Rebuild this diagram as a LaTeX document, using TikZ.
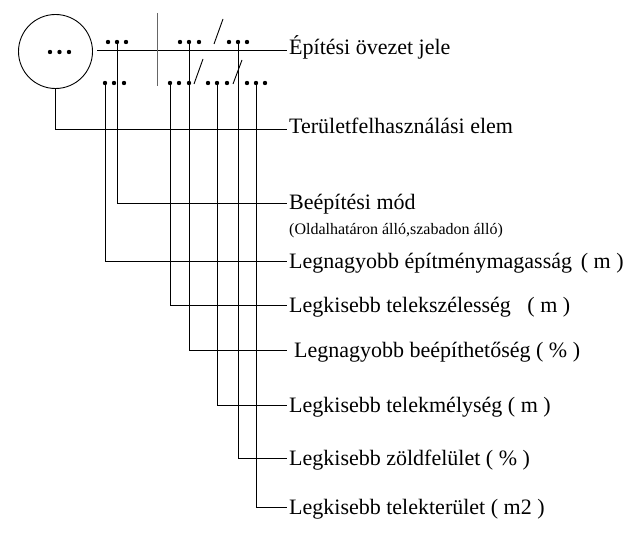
\documentclass[tikz,border=0pt]{standalone}
\usepackage{fontspec}
\setmainfont{Liberation Serif}
\begin{document}
\begin{tikzpicture}[x=1pt,y=-1pt,
  ln/.style={line width=0.9pt,black},
  dotp/.style={circle,fill=black,inner sep=0pt,minimum size=4.4pt},
  lbl/.style={anchor=base west,inner sep=0pt,font=\fontsize{22}{24}\selectfont},
  sublbl/.style={anchor=base west,inner sep=0pt,font=\fontsize{16}{18}\selectfont}]
\useasboundingbox (0,0) rectangle (636,540);
% circle
\node[draw,ln,circle,minimum size=74pt,inner sep=0pt] (circ) at (55.5,51.5) {};
\foreach \x [count=\i] in {50,59.5,69} \node[dotp] (c\i) at (\x,52) {};
% top horizontal line and separator
\coordinate (hl) at (97,50);
\coordinate (e0) at (287,50);
\draw[ln] (hl) -- (e0);
\coordinate (s1) at (157,13);
\coordinate (s2) at (157,86);
\draw[line width=0.9pt,black!60] (s1) -- (s2);
% top dots
\foreach \x [count=\i] in {108,117,126,180,189,199,229,238,247} \node[dotp] (t\i) at (\x,42) {};
% bottom dots
\foreach \x [count=\i] in {105,114,124,170,179,189,208,217,227,247,256,265} \node[dotp] (b\i) at (\x,83) {};
% slashes
\coordinate (sa1) at (214,44); \coordinate (sa2) at (223,19);
\coordinate (sb1) at (194,84); \coordinate (sb2) at (203,59);
\coordinate (sc1) at (233,84); \coordinate (sc2) at (242,60);
\draw[ln] (sa1) -- (sa2);
\draw[ln] (sb1) -- (sb2);
\draw[ln] (sc1) -- (sc2);
% line end coordinates
\coordinate (e1) at (287,129);
\coordinate (e2) at (287,203);
\coordinate (e3) at (287,261);
\coordinate (e4) at (287,305);
\coordinate (e5) at (287,350);
\coordinate (e6) at (287,405);
\coordinate (e7) at (287,458);
\coordinate (e8) at (287,507);
% labels
\node[lbl] (l0) at (289,55) {Építési övezet jele};
\node[lbl] (l1) at (289,134) {Területfelhasználási elem};
\node[lbl] (l2) at (289,209) {Beépítési mód};
\node[sublbl] (l2b) at (289,234) {(Oldalhatáron álló,szabadon álló)};
\node[lbl] (l3) at (289,268) {Legnagyobb építménymagasság\hspace{0.4em}( m )};
\node[lbl] (l4) at (289,312) {Legkisebb telekszélesség\hspace{0.75em}( m )};
\node[lbl] (l5) at (294,357) {Legnagyobb beépíthetőség ( \% )};
\node[lbl] (l6) at (289,412) {Legkisebb telekmélység ( m )};
\node[lbl] (l7) at (289,465) {Legkisebb zöldfelület ( \% )};
\node[lbl] (l8) at (289,514) {Legkisebb telekterület ( m2 )};
% connectors
\draw[ln] (circ.south) |- (e1);
\draw[ln] (t2.center) |- (e2);
\draw[ln] (b1.center) |- (e3);
\draw[ln] (b4.center) |- (e4);
\draw[ln] (t5.center) |- (e5);
\draw[ln] (b8.center) |- (e6);
\draw[ln] (t8.center) |- (e7);
\draw[ln] (b11.center) |- (e8);
\end{tikzpicture}
\end{document}
